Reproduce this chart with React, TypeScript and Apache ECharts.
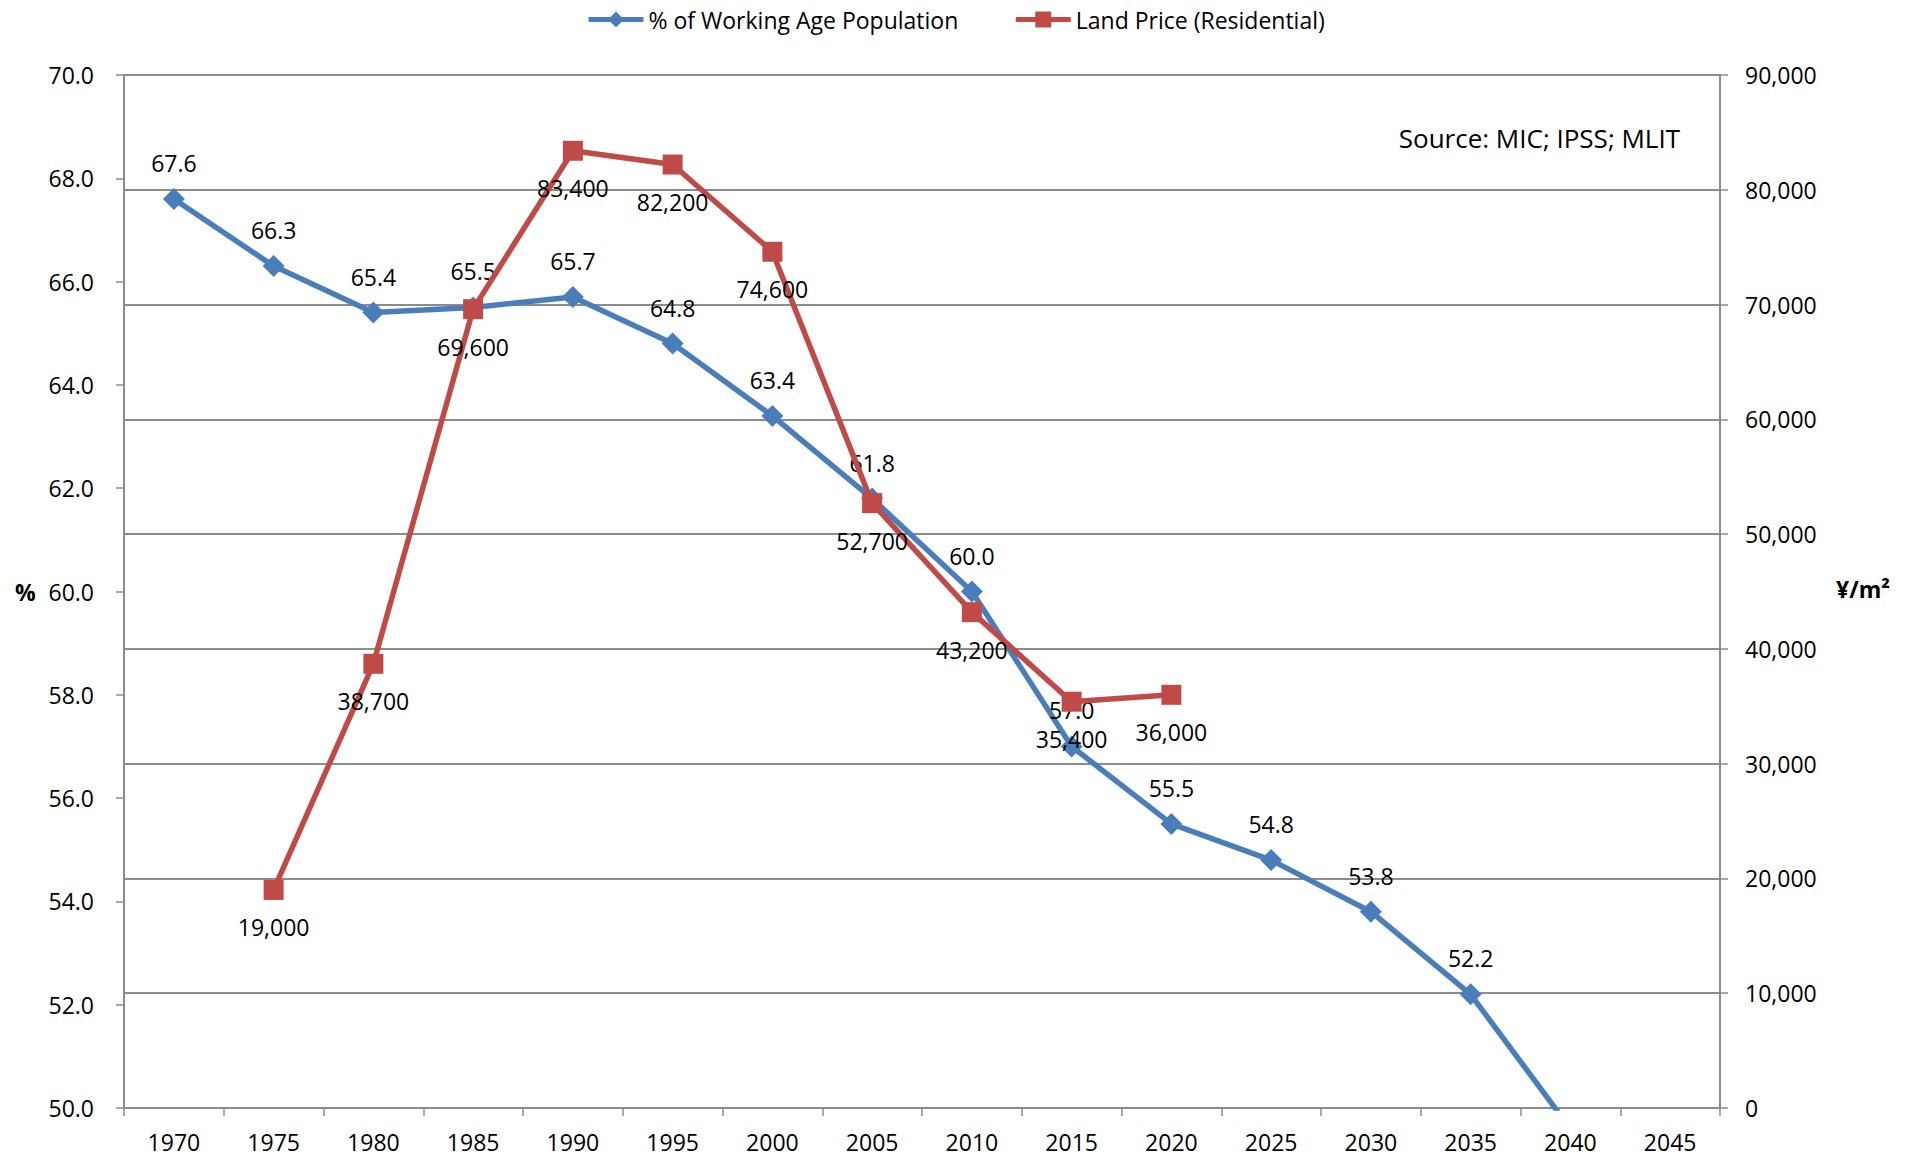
import React, { useEffect, useRef } from "react";
import * as echarts from "echarts";

const years = ["1970", "1975", "1980", "1985", "1990", "1995", "2000", "2005", "2010", "2015", "2020", "2025", "2030", "2035", "2040", "2045"];
const workingAgePct: (number | null)[] = [67.6, 66.3, 65.4, 65.5, 65.7, 64.8, 63.4, 61.8, 60.0, 57.0, 55.5, 54.8, 53.8, 52.2, 49.6, null];
const landPrice: (number | null)[] = [null, 19000, 38700, 69600, 83400, 82200, 74600, 52700, 43200, 35400, 36000, null, null, null, null, null];
const seriesNames = ["% of Working Age Population", "Land Price (Residential)"];
const sourceNote = "Source: MIC; IPSS; MLIT";
const leftAxisName = "%";
const rightAxisName = "¥/m²";

const FONT = "'Open Sans', sans-serif";
const FS = 23;
const GRID_COLOR = "#8c8c8c";
const BLUE = "#4a7ebb";
const RED = "#be4b48";

export default function App() {
  const ref = useRef<HTMLDivElement>(null);
  useEffect(() => {
    if (!ref.current) return;
    const chart = echarts.init(ref.current, null, { renderer: "svg" });
    const axisLabelStyle = { color: "#000", fontFamily: FONT, fontSize: FS };
    chart.setOption({
      animation: false,
      backgroundColor: "#fff",
      textStyle: { fontFamily: FONT },
      legend: {
        left: 586,
        top: 8,
        padding: 0,
        itemWidth: 55,
        itemHeight: 20,
        itemGap: 55,
        lineStyle: { width: 5 },
        textStyle: { color: "#000", fontFamily: FONT, fontSize: FS },
        data: seriesNames,
      },
      grid: { left: 124, right: 186, top: 75, bottom: 49, containLabel: false },
      xAxis: {
        type: "category",
        data: years,
        boundaryGap: true,
        axisLine: { lineStyle: { color: GRID_COLOR, width: 2 } },
        axisTick: { show: true, length: 8, interval: 0, lineStyle: { color: GRID_COLOR, width: 1.5 } },
        axisLabel: { ...axisLabelStyle, margin: 22, interval: 0 },
        splitLine: { show: false },
      },
      yAxis: [
        {
          type: "value",
          min: 50,
          max: 70,
          interval: 2,
          position: "left",
          axisLine: { show: true, lineStyle: { color: GRID_COLOR, width: 2 } },
          axisTick: { show: true, length: 8, lineStyle: { color: GRID_COLOR, width: 1.5 } },
          axisLabel: { ...axisLabelStyle, margin: 30, formatter: (v: number) => v.toFixed(1) },
          splitLine: { show: false },
        },
        {
          type: "value",
          min: 0,
          max: 90000,
          interval: 10000,
          position: "right",
          axisLine: { show: true, lineStyle: { color: GRID_COLOR, width: 2 } },
          axisTick: { show: true, length: 8, lineStyle: { color: GRID_COLOR, width: 1.5 } },
          axisLabel: { ...axisLabelStyle, margin: 25, formatter: (v: number) => v.toLocaleString("en-US") },
          splitLine: { show: true, lineStyle: { color: GRID_COLOR, width: 2 } },
        },
      ],
      series: [
        {
          name: seriesNames[0],
          type: "line",
          yAxisIndex: 0,
          data: workingAgePct,
          clip: true,
          symbol: "diamond",
          symbolSize: 22,
          showAllSymbol: true,
          lineStyle: { color: BLUE, width: 5.5 },
          itemStyle: { color: BLUE },
          label: {
            show: true,
            position: "top",
            distance: 13.5,
            color: "#000",
            fontFamily: FONT,
            fontSize: FS,
            formatter: (p: any) => (p.value == null || p.value < 50 ? "" : Number(p.value).toFixed(1)),
          },
          z: 2,
        },
        {
          name: seriesNames[1],
          type: "line",
          yAxisIndex: 1,
          data: landPrice,
          clip: true,
          symbol: "rect",
          symbolSize: 20,
          showAllSymbol: true,
          lineStyle: { color: RED, width: 5.5 },
          itemStyle: { color: RED },
          label: {
            show: true,
            position: "bottom",
            distance: 16,
            color: "#000",
            fontFamily: FONT,
            fontSize: FS,
            formatter: (p: any) => (p.value == null ? "" : Number(p.value).toLocaleString("en-US")),
          },
          z: 3,
        },
      ],
      graphic: [
        {
          type: "text",
          left: 15,
          top: 580,
          style: { text: leftAxisName, fill: "#000", font: `bold ${FS}px ${FONT}` },
        },
        {
          type: "text",
          left: 1836,
          top: 577,
          style: { text: rightAxisName, fill: "#000", font: `bold ${FS}px ${FONT}` },
        },
        {
          type: "text",
          right: 1906 - 1680,
          top: 125,
          style: { text: sourceNote, fill: "#000", font: `26px ${FONT}` },
        },
      ],
    });
    return () => chart.dispose();
  }, []);
  return (
    <div
      ref={ref}
      style={{ position: "fixed", left: 0, top: 0, width: 1906, height: 1157, background: "#fff" }}
    />
  );
}
